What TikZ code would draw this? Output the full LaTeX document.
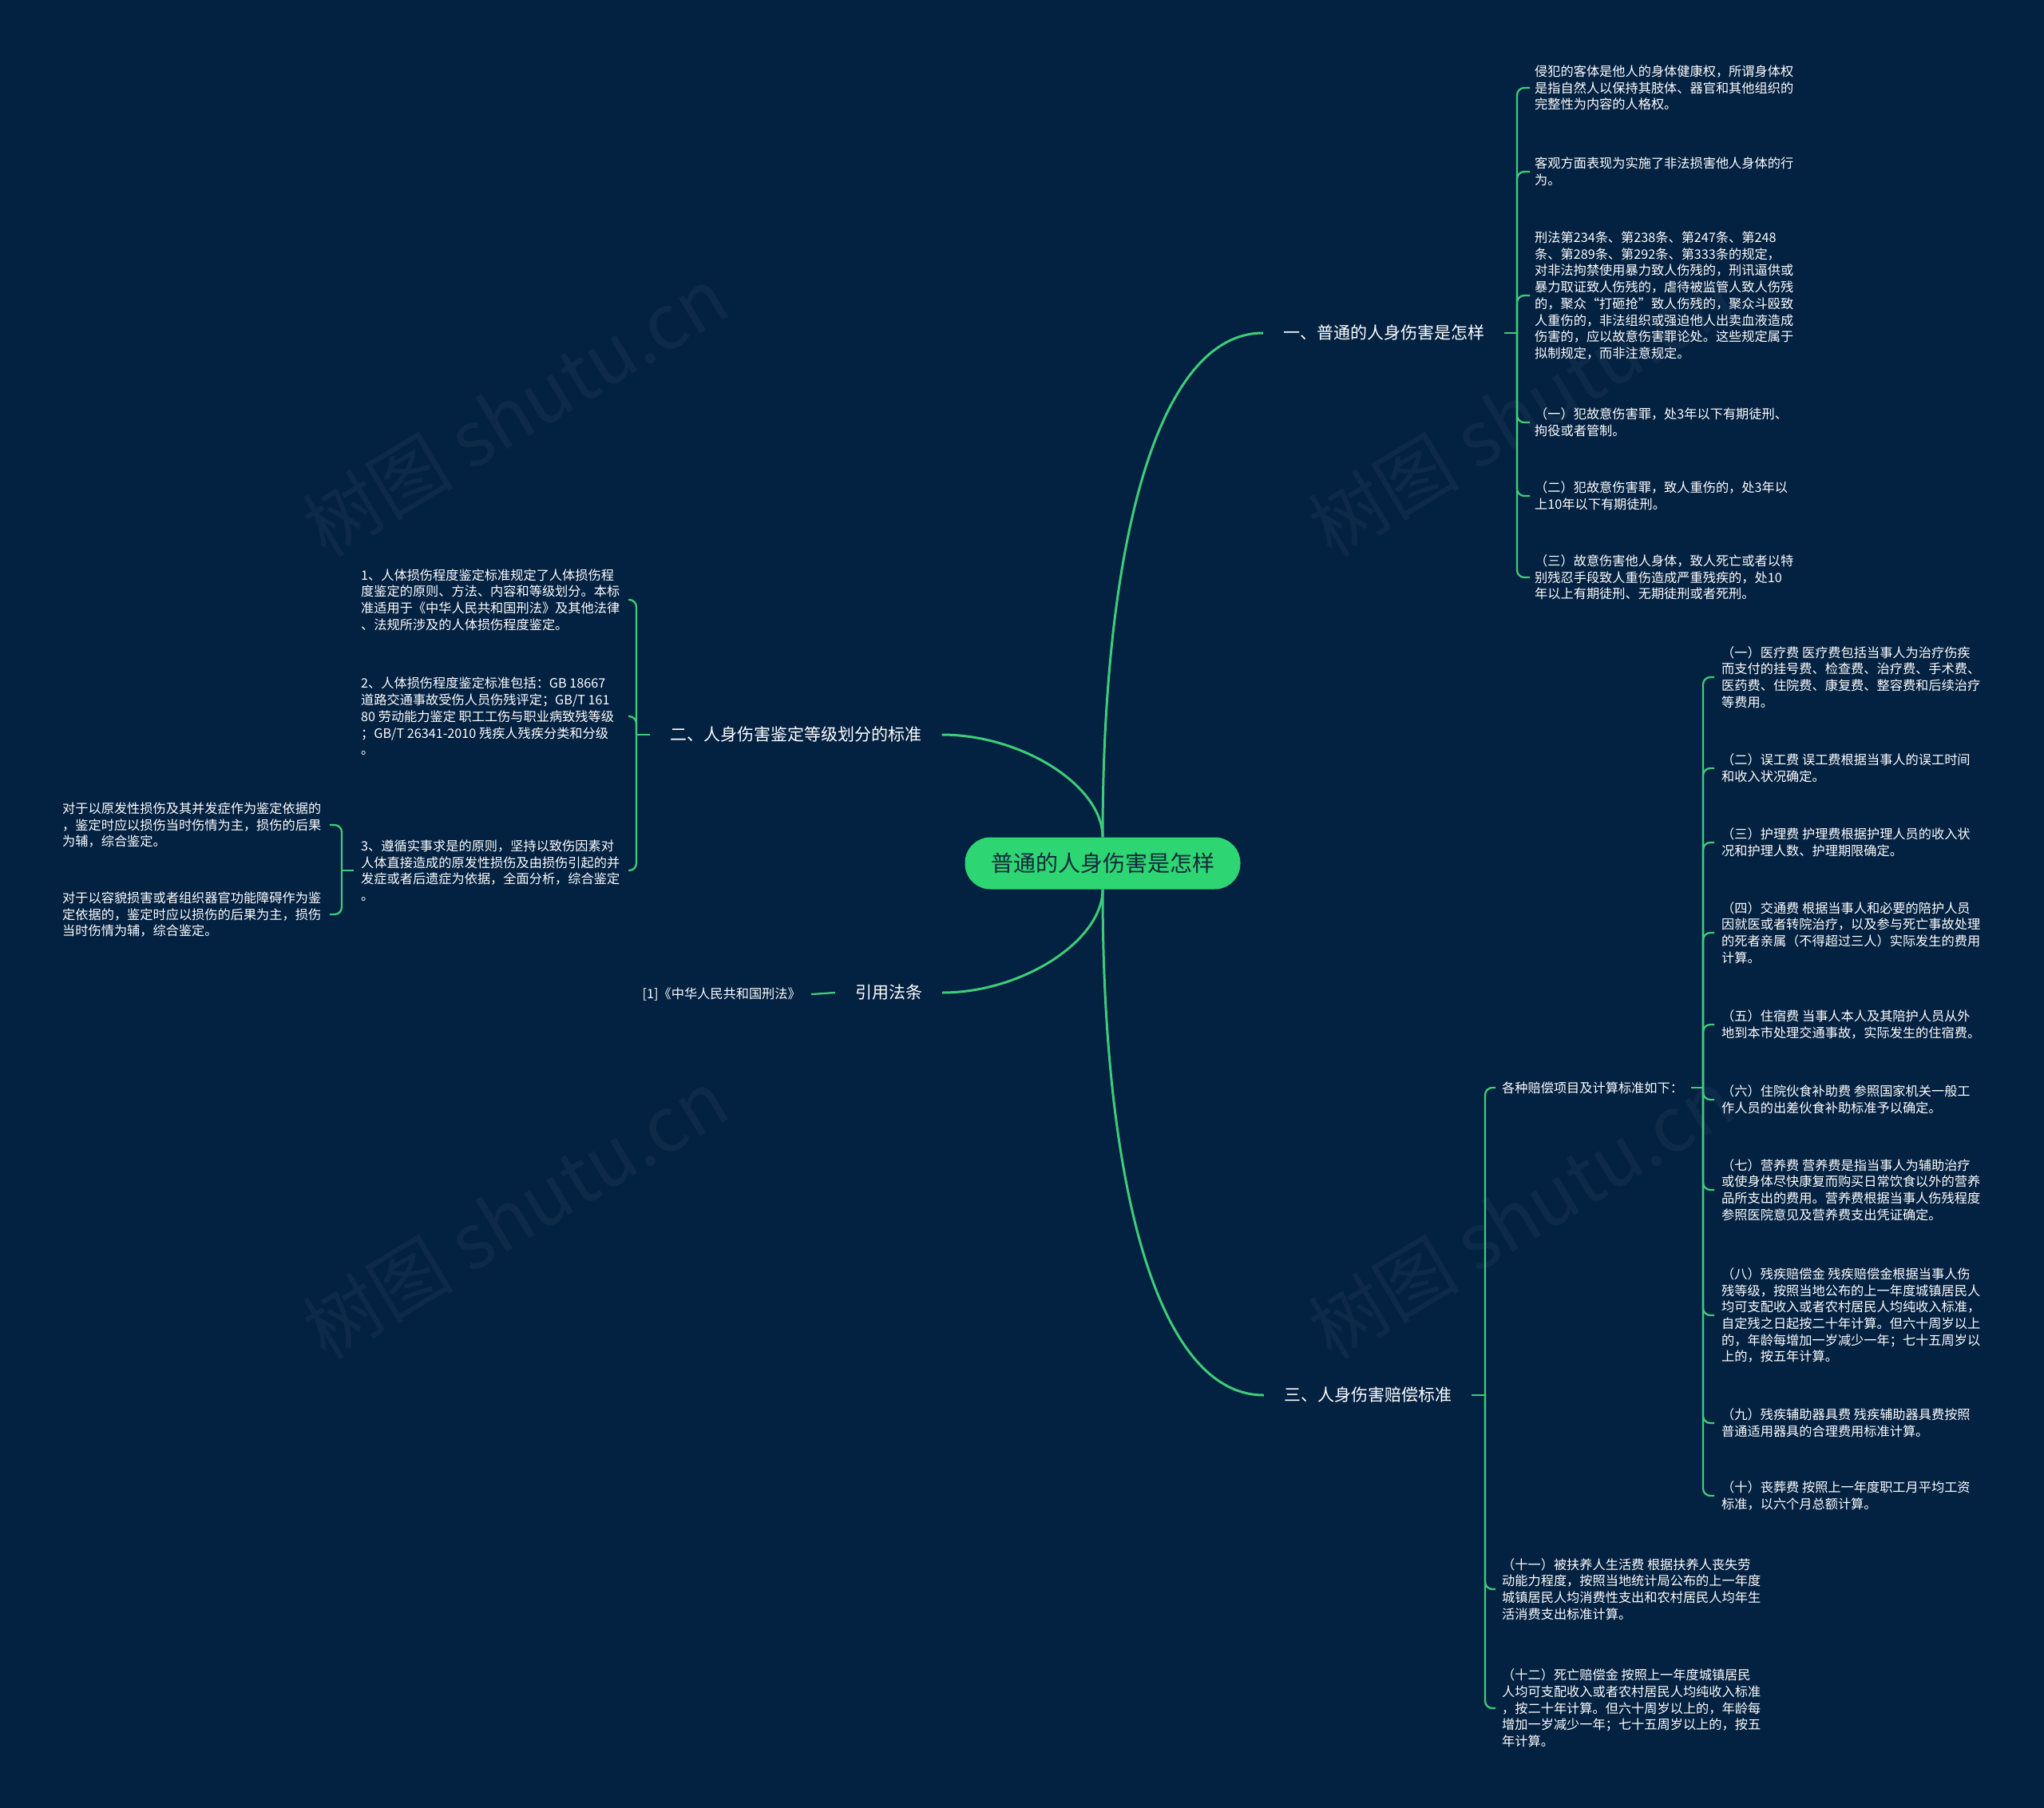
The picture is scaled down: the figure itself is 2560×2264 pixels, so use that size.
\documentclass[tikz,border=0pt]{standalone}
\usepackage{fontspec}
\setmainfont{Noto Sans CJK SC}
\usetikzlibrary{calc}
\definecolor{bg}{HTML}{032141}
\definecolor{ln}{HTML}{3ECC78}
\definecolor{cfill}{HTML}{2ED573}
\definecolor{ctext}{HTML}{14283A}
\begin{document}
\begin{tikzpicture}[x=1pt,y=-1pt,
  main/.style={draw=ln, line width=3pt},
  hookln/.style={draw=ln, line width=2.3pt, rounded corners=9pt},
  tick/.style={draw=ln, line width=2.3pt},
  leaf/.style={text=white, font=\fontsize{16.2}{20.7}\selectfont, align=left, inner sep=0pt, anchor=west},
  branch/.style={text=white, font=\fontsize{21}{25}\selectfont, inner xsep=25pt, inner ysep=4pt},
  root/.style={fill=cfill, text=ctext, rounded corners=32pt, minimum width=345pt, minimum height=65pt, font=\fontsize{28}{32}\selectfont},
  wm/.style={text=white, text opacity=0.045, font=\fontsize{95}{100}\selectfont, rotate=31}
]
\fill[bg] (0,0) rectangle (2560,2264);
\useasboundingbox (0,0) rectangle (2560,2264);

% watermarks
\node[wm] (w1) at (645,515) {树图 shutu.cn};
\node[wm] (w2) at (645,1520) {树图 shutu.cn};
\node[wm] (w3) at (1905,515) {树图 shutu.cn};
\node[wm] (w4) at (1905,1520) {树图 shutu.cn};

% root and branches
\node[root] (ctr) at (1381,1081) {普通的人身伤害是怎样};
\node[branch] (L1) at (1733,417) {一、普通的人身伤害是怎样};
\node[branch] (L2) at (997,920) {二、人身伤害鉴定等级划分的标准};
\node[branch] (L3) at (1713,1747) {三、人身伤害赔偿标准};
\node[branch] (L4) at (1113,1243) {引用法条};
\node[leaf, anchor=east, inner xsep=13pt] (R1) at (1016,1245) {[1]《中华人民共和国刑法》};

\draw[main] (ctr.north) .. controls (1381,680) and (1450,417) .. (L1.west);
\draw[main] (ctr.south) .. controls (1381,1485) and (1450,1747) .. (L3.west);
\draw[main] (L2.east) .. controls (1280,920) and (1381,984) .. (ctr.north);
\draw[main] (L4.east) .. controls (1280,1243) and (1381,1178) .. (ctr.south);

\coordinate (b1) at (1900,417);
\coordinate (b2) at (797,920);
\coordinate (b3) at (1860,1747);
\coordinate (bD) at (2133,1362);
\coordinate (bG) at (428,1090);
\coordinate (hk2) at (787,0);
\coordinate (hkG) at (413,0);

% branch 1 children
\node[leaf] (C1) at (1922,110) {侵犯的客体是他人的身体健康权，所谓身体权\\是指自然人以保持其肢体、器官和其他组织的\\完整性为内容的人格权。};
\node[leaf] (C2) at (1922,215) {客观方面表现为实施了非法损害他人身体的行\\为。};
\node[leaf] (C3) at (1922,370) {刑法第234条、第238条、第247条、第248\\条、第289条、第292条、第333条的规定，\\对非法拘禁使用暴力致人伤残的，刑讯逼供或\\暴力取证致人伤残的，虐待被监管人致人伤残\\的，聚众“打砸抢”致人伤残的，聚众斗殴致\\人重伤的，非法组织或强迫他人出卖血液造成\\伤害的，应以故意伤害罪论处。这些规定属于\\拟制规定，而非注意规定。};
\node[leaf] (C4) at (1922,529) {（一）犯故意伤害罪，处3年以下有期徒刑、\\拘役或者管制。};
\node[leaf] (C5) at (1922,621) {（二）犯故意伤害罪，致人重伤的，处3年以\\上10年以下有期徒刑。};
\node[leaf] (C6) at (1922,723) {（三）故意伤害他人身体，致人死亡或者以特\\别残忍手段致人重伤造成严重残疾的，处10\\年以上有期徒刑、无期徒刑或者死刑。};
\draw[tick] (L1.east) -- (b1);
\foreach \c in {C1,C2,C3,C4,C5,C6}{\draw[hookln] (b1) |- ([xshift=-6pt]\c.west);}

% branch 3 children
\node[leaf] (D0) at (1881,1362) {各种赔偿项目及计算标准如下：};
\node[leaf] (E1) at (1881,1990) {（十一）被扶养人生活费 根据扶养人丧失劳\\动能力程度，按照当地统计局公布的上一年度\\城镇居民人均消费性支出和农村居民人均年生\\活消费支出标准计算。};
\node[leaf] (E2) at (1881,2139) {（十二）死亡赔偿金 按照上一年度城镇居民\\人均可支配收入或者农村居民人均纯收入标准\\，按二十年计算。但六十周岁以上的，年龄每\\增加一岁减少一年；七十五周岁以上的，按五\\年计算。};
\draw[tick] (L3.east) -- (b3);
\foreach \c in {D0,E1,E2}{\draw[hookln] (b3) |- ([xshift=-8pt]\c.west);}

\node[leaf] (D1) at (2156,848) {（一）医疗费 医疗费包括当事人为治疗伤疾\\而支付的挂号费、检查费、治疗费、手术费、\\医药费、住院费、康复费、整容费和后续治疗\\等费用。};
\node[leaf] (D2) at (2156,962) {（二）误工费 误工费根据当事人的误工时间\\和收入状况确定。};
\node[leaf] (D3) at (2156,1055) {（三）护理费 护理费根据护理人员的收入状\\况和护理人数、护理期限确定。};
\node[leaf] (D4) at (2156,1168) {（四）交通费 根据当事人和必要的陪护人员\\因就医或者转院治疗，以及参与死亡事故处理\\的死者亲属（不得超过三人）实际发生的费用\\计算。};
\node[leaf] (D5) at (2156,1283) {（五）住宿费 当事人本人及其陪护人员从外\\地到本市处理交通事故，实际发生的住宿费。};
\node[leaf] (D6) at (2156,1377) {（六）住院伙食补助费 参照国家机关一般工\\作人员的出差伙食补助标准予以确定。};
\node[leaf] (D7) at (2156,1490) {（七）营养费 营养费是指当事人为辅助治疗\\或使身体尽快康复而购买日常饮食以外的营养\\品所支出的费用。营养费根据当事人伤残程度\\参照医院意见及营养费支出凭证确定。};
\node[leaf] (D8) at (2156,1647) {（八）残疾赔偿金 残疾赔偿金根据当事人伤\\残等级，按照当地公布的上一年度城镇居民人\\均可支配收入或者农村居民人均纯收入标准，\\自定残之日起按二十年计算。但六十周岁以上\\的，年龄每增加一岁减少一年；七十五周岁以\\上的，按五年计算。};
\node[leaf] (D9) at (2156,1782) {（九）残疾辅助器具费 残疾辅助器具费按照\\普通适用器具的合理费用标准计算。};
\node[leaf] (D10) at (2156,1873) {（十）丧葬费 按照上一年度职工月平均工资\\标准，以六个月总额计算。};
\draw[tick] ([xshift=10pt]D0.east) -- (bD);
\foreach \c in {D1,D2,D3,D4,D5,D6,D7,D8,D9,D10}{\draw[hookln] (bD) |- ([xshift=-9pt]\c.west);}

% branch 2 children
\node[leaf] (F1) at (452,751) {1、人体损伤程度鉴定标准规定了人体损伤程\\度鉴定的原则、方法、内容和等级划分。本标\\准适用于《中华人民共和国刑法》及其他法律\\、法规所涉及的人体损伤程度鉴定。};
\node[leaf] (F2) at (452,897) {2、人体损伤程度鉴定标准包括：GB 18667\\道路交通事故受伤人员伤残评定；GB/T 161\\80 劳动能力鉴定 职工工伤与职业病致残等级\\；GB/T 26341-2010 残疾人残疾分类和分级\\。};
\node[leaf] (F3) at (452,1090) {3、遵循实事求是的原则，坚持以致伤因素对\\人体直接造成的原发性损伤及由损伤引起的并\\发症或者后遗症为依据，全面分析，综合鉴定\\。};
\draw[tick] (L2.west) -- (b2);
\foreach \c in {F1,F2,F3}{\draw[hookln] (b2) |- (\c.west -| hk2);}

\node[leaf] (G1) at (78,1033) {对于以原发性损伤及其并发症作为鉴定依据的\\，鉴定时应以损伤当时伤情为主，损伤的后果\\为辅，综合鉴定。};
\node[leaf] (G2) at (78,1145) {对于以容貌损害或者组织器官功能障碍作为鉴\\定依据的，鉴定时应以损伤的后果为主，损伤\\当时伤情为辅，综合鉴定。};
\draw[tick] ([xshift=-9pt]F3.west) -- (bG);
\foreach \c in {G1,G2}{\draw[hookln] (bG) |- (\c.west -| hkG);}

\draw[tick] (L4.west) -- (R1.east);
\end{tikzpicture}
\end{document}
